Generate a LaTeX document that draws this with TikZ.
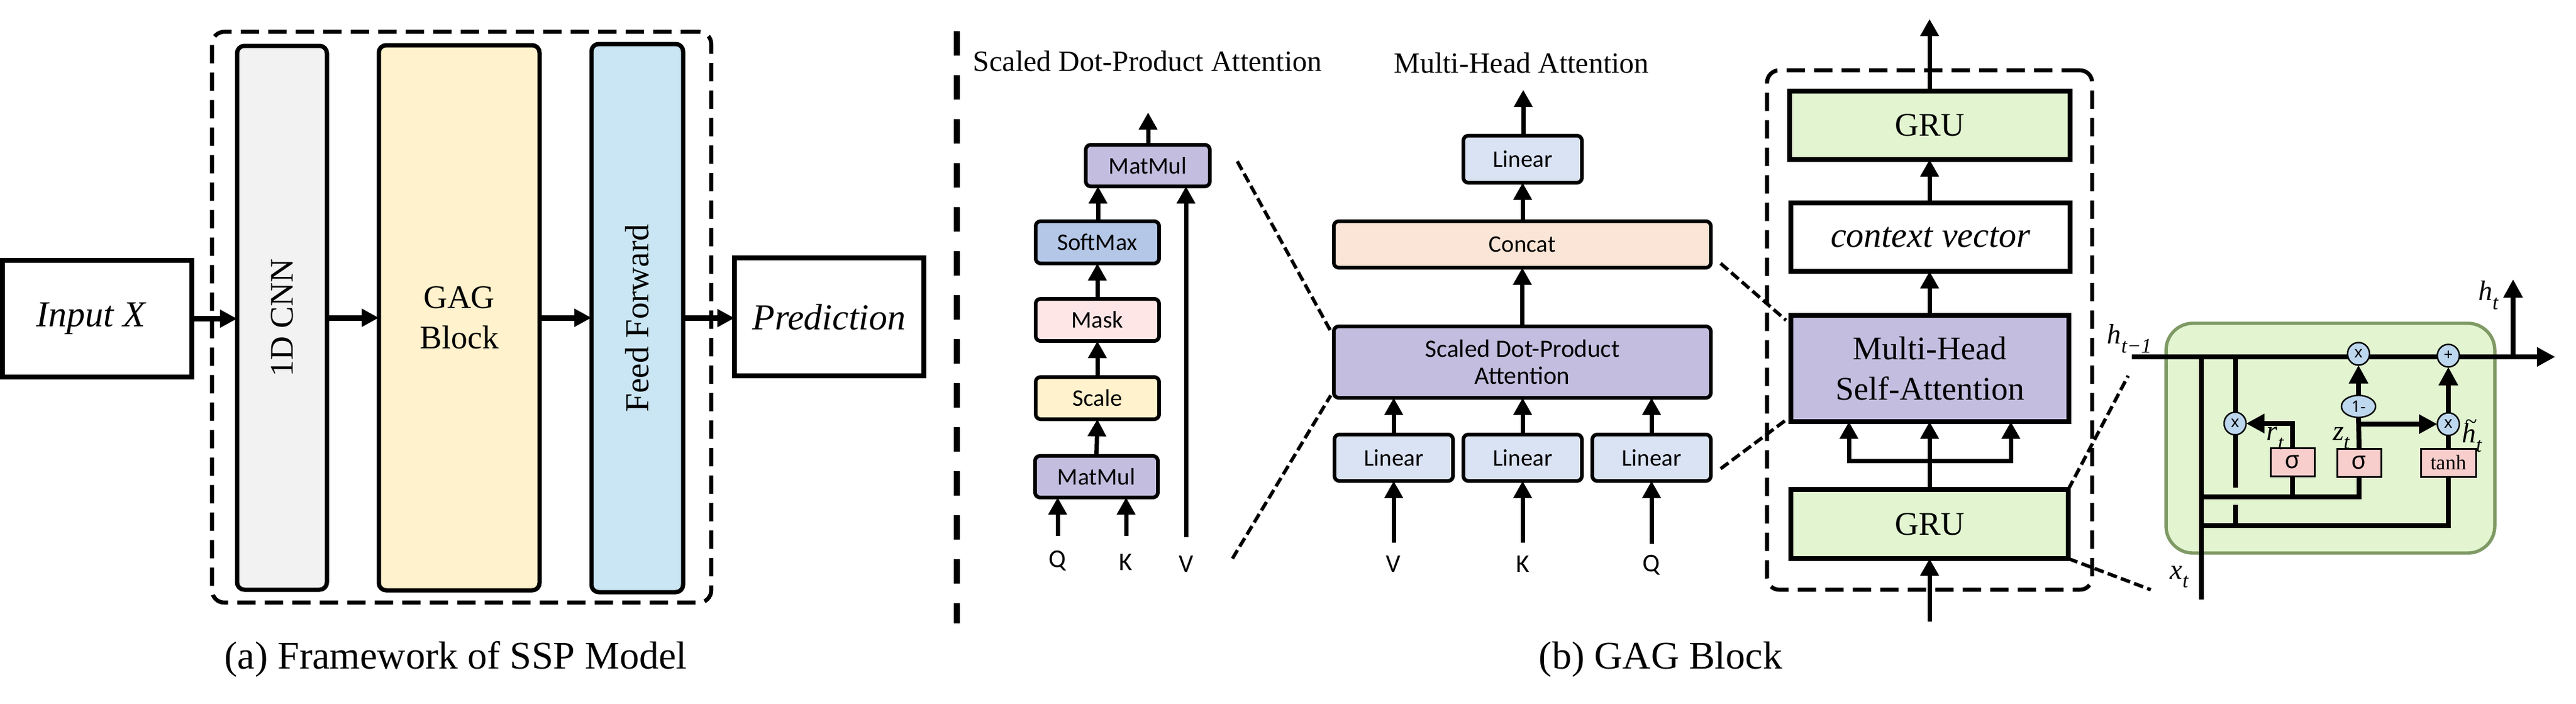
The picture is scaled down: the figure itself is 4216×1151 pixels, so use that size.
\documentclass[tikz,border=0pt]{standalone}
\usepackage{fontspec}
\setmainfont{Liberation Serif}
\newfontfamily\nsans{Carlito}
\newfontfamily\nsansb{Noto Sans}
\usetikzlibrary{arrows.meta,shapes.geometric,calc}
\definecolor{cgrey}{HTML}{F2F2F2}
\definecolor{cyel}{HTML}{FFF2CC}
\definecolor{cblue}{HTML}{CAE6F4}
\definecolor{cgreen}{HTML}{E2F5D0}
\definecolor{cpurp}{HTML}{C3BDDF}
\definecolor{csoft}{HTML}{B4C7E7}
\definecolor{cmask}{HTML}{FFE6E6}
\definecolor{clin}{HTML}{DAE3F3}
\definecolor{ccon}{HTML}{FBE5D6}
\definecolor{cpink}{HTML}{F8CECC}
\definecolor{ccirc}{HTML}{BDD7EE}
\definecolor{cedge}{HTML}{7F9A65}
\newcommand{\fs}[1]{\fontsize{#1}{#1}\selectfont}
\newcommand{\fsl}[2]{\fontsize{#1}{#2}\selectfont}
\newcommand{\bx}[7]{%
  \pgfmathsetmacro\bxcx{(#3+#5)/2}\pgfmathsetmacro\bxcy{(#4+#6)/2}%
  \pgfmathsetmacro\bxw{(#5-#3-4)*0.5}\pgfmathsetmacro\bxh{(#6-#4-4)*0.5}%
  \node[#1,minimum width=\bxw pt,minimum height=\bxh pt] (#2) at (\bxcx,\bxcy) {#7};}
\newcommand{\lab}[2]{\textit{#1}\raisebox{-.32em}{\fs{17}\textit{#2}}}
\tikzset{
  bbase/.style={draw=black,line width=3.5pt,inner sep=0pt,outer sep=0pt,align=center},
  plainbox/.style={bbase,line width=4pt,font=\fs{30}\itshape},
  tallbox/.style={bbase,rounded corners=6pt,font=\fs{27}},
  smallbox/.style={bbase,line width=3pt,rounded corners=4pt,font=\nsans\fs{19.5}},
  sqbox/.style={bbase,line width=4pt,font=\fs{27}},
  dashbox/.style={draw=black,line width=3.3pt,dash pattern=on 15pt off 7.5pt,rounded corners=10pt,inner sep=0pt},
  zoomline/.style={draw=black,line width=2.8pt,dash pattern=on 8pt off 3.5pt},
  arr/.style={draw=black,line width=3.5pt,-{Triangle[length=14pt,width=14.5pt]}},
  arrthick/.style={draw=black,line width=4.5pt,-{Triangle[length=14pt,width=14pt]}},
  wire/.style={draw=black,line width=4pt},
  wirearr/.style={wire,-{Triangle[length=15pt,width=15pt]}},
  cellbox/.style={draw=black,line width=1.5pt,fill=cpink,inner sep=0pt,outer sep=0pt},
  circnode/.style={ellipse,draw=black,line width=1.2pt,fill=ccirc,inner sep=0pt,outer sep=0pt,font=\nsansb\fs{13}},
  captext/.style={font=\fs{32},inner sep=0pt},
  titletext/.style={font=\fs{24},inner sep=0pt},
  qkv/.style={font=\nsans\fs{21},inner sep=0pt},
  symtext/.style={font=\fs{23},inner sep=0pt}
}
\begin{document}
\begin{tikzpicture}[x=0.5pt,y=-0.5pt]
\useasboundingbox (0,0) rectangle (4216,1151);
% ---------- (a)
\bx{dashbox}{frame}{345}{50}{1166}{988}{}
\bx{plainbox}{input}{2}{424}{316}{619}{Input X\hspace{10pt}}
\bx{tallbox,fill=cgrey}{cnn}{386}{73}{537}{967}{\rotatebox{90}{1D CNN}}
\bx{tallbox,fill=cyel,font=\fsl{27}{33}}{gag}{618}{72}{885}{968}{GAG\\Block}
\bx{tallbox,fill=cblue,font=\fs{27.5}}{ff}{966}{70}{1120}{971}{\rotatebox{90}{Feed Forward}}
\bx{plainbox}{pred}{1200}{420}{1514}{617}{Prediction}
\draw[arrthick] (input.east) -- (input.east -| cnn.west);
\draw[arrthick] (cnn.east) -- (cnn.east -| gag.west);
\draw[arrthick] (gag.east) -- (gag.east -| ff.west);
\draw[arrthick] (ff.east) -- (ff.east -| pred.west);
\node[captext] (capa) at (746,1079) {(a) Framework of SSP Model};
% ---------- divider
\coordinate (divtop) at (1566,51);
\coordinate (divbot) at (1566,1020);
\draw[line width=5pt,dash pattern=on 20pt off 16pt] (divtop) -- (divbot);
% ---------- scaled dot-product attention
\node[titletext] (t1) at (1878,100) {Scaled Dot-Product Attention};
\node[titletext] (t2) at (2490,103) {Multi-Head Attention};
\bx{smallbox,fill=cpurp}{mm2}{1775}{235}{1982}{307}{MatMul}
\bx{smallbox,fill=csoft}{sm}{1693}{360}{1899}{433}{SoftMax}
\bx{smallbox,fill=cmask}{mask}{1693}{487}{1899}{560}{Mask}
\bx{smallbox,fill=cyel}{scale}{1693}{615}{1899}{688}{Scale}
\bx{smallbox,fill=cpurp}{mm1}{1692}{744}{1897}{816}{MatMul}
\coordinate (o1) at (1879,184);
\draw[arr] (o1 |- mm2.north) -- (o1);
\draw[arr] (mm1.north) -- (scale.south);
\draw[arr] (scale.north) -- (mask.south);
\draw[arr] (mask.north) -- (sm.south);
\coordinate (smt) at (1797,360);
\draw[arr] (smt) -- (smt |- mm2.south);
\node[qkv] (lq1) at (1731,918) {Q};
\node[qkv] (lk1) at (1842,920) {K};
\node[qkv] (lv1) at (1941,923) {V};
\coordinate (q1s) at (1731,877);
\coordinate (k1s) at (1843,877);
\coordinate (v1s) at (1941,879);
\draw[arr] (q1s) -- (q1s |- mm1.south);
\draw[arr] (k1s) -- (k1s |- mm1.south);
\draw[arr] (v1s) -- (v1s |- mm2.south);
% ---------- multi-head attention
\bx{smallbox,fill=clin}{ltop}{2393}{220}{2591}{301}{Linear}
\bx{smallbox,fill=ccon}{concat}{2181}{360}{2802}{440}{Concat}
\bx{smallbox,fill=cpurp,font=\nsans\fsl{20.5}{22}}{sdpa}{2181}{532}{2802}{653}{Scaled Dot-Product\\Attention}
\bx{smallbox,fill=clin}{l1}{2182}{709}{2380}{789}{Linear}
\bx{smallbox,fill=clin}{l2}{2393}{709}{2591}{789}{Linear}
\bx{smallbox,fill=clin}{l3}{2604}{709}{2802}{789}{Linear}
\coordinate (o2) at (2493,147);
\draw[arr] (o2 |- ltop.north) -- (o2);
\draw[arr] (concat.north -| ltop.south) -- (ltop.south);
\draw[arr] (sdpa.north) -- (concat.south);
\draw[arr] (l1.north) -- (l1.north |- sdpa.south);
\draw[arr] (l2.north) -- (l2.north |- sdpa.south);
\draw[arr] (l3.north) -- (l3.north |- sdpa.south);
\node[qkv] (lv2) at (2280,923) {V};
\node[qkv] (lk2) at (2492,923) {K};
\node[qkv] (lq2) at (2703,925) {Q};
\coordinate (v2s) at (2281,888);
\coordinate (k2s) at (2492,888);
\coordinate (q2s) at (2703,890);
\draw[arr] (v2s) -- (v2s |- l1.south);
\draw[arr] (k2s) -- (k2s |- l2.south);
\draw[arr] (q2s) -- (q2s |- l3.south);
% ---------- GAG block
\bx{dashbox}{gagframe}{2890}{113}{3426}{967}{}
\bx{sqbox,fill=cgreen}{gru2}{2927}{147}{3390}{263}{GRU}
\bx{sqbox,font=\fs{29}\itshape}{ctx}{2929}{330}{3390}{446}{context vector}
\bx{sqbox,fill=cpurp,font=\fsl{27}{33}}{mhsa}{2929}{514}{3388}{692}{Multi-Head\\Self-Attention}
\bx{sqbox,fill=cgreen}{gru1}{2929}{799}{3387}{916}{GRU}
\coordinate (o3) at (3158,31);
\coordinate (i3) at (3158,1017);
\coordinate (fork) at (3158,754);
\draw[arr] (o3 |- gru2.north) -- (o3);
\draw[arr] (ctx.north -| o3) -- (o3 |- gru2.south);
\draw[arr] (mhsa.north -| o3) -- (o3 |- ctx.south);
\draw[arr] (gru1.north -| o3) -- (o3 |- mhsa.south);
\draw[arr] (i3) -- (o3 |- gru1.south);
\coordinate (fl) at (3026,754);
\coordinate (fr) at (3291,754);
\draw[arr] (fork) -- (fl) -- (fl |- mhsa.south);
\draw[arr] (fork) -- (fr) -- (fr |- mhsa.south);
% ---------- zoom guide lines
\coordinate (z1a) at (2025,264);
\coordinate (z1b) at (2017,914);
\draw[zoomline] (z1a) -- ($(sdpa.north west)+(-5,8)$);
\draw[zoomline] (z1b) -- ($(sdpa.south west)+(-5,-4)$);
\coordinate (z2a) at (2816,431);
\coordinate (z2b) at (2816,767);
\draw[zoomline] (z2a) -- ($(mhsa.north west)+(-8,8)$);
\draw[zoomline] (z2b) -- ($(mhsa.south west)+(-5,-5)$);
\coordinate (z3a) at (3483,615);
\coordinate (z3b) at (3520,965);
\draw[zoomline] (gru1.north east) -- (z3a);
\draw[zoomline] (gru1.south east) -- (z3b);
% ---------- GRU cell
\node[draw=cedge,line width=2.7pt,fill=cgreen,rounded corners=22pt,inner sep=0pt,outer sep=0pt,minimum width=269pt,minimum height=188pt] (cell) at (3814,717) {};
\node[cellbox,minimum width=36pt,minimum height=23pt] (s1) at (3752,756) {\nsansb\fs{20}σ};
\node[cellbox,minimum width=36pt,minimum height=23pt] (s2) at (3861,757) {\nsansb\fs{20}σ};
\node[cellbox,minimum width=45pt,minimum height=23pt] (tanh) at (4007,757) {\fs{17}tanh};
\coordinate (hin) at (3489,584);
\coordinate (hout) at (4182,584);
\coordinate (hup) at (4113,584);
\coordinate (htop) at (4113,457);
\coordinate (xin) at (3603,981);
\coordinate (xa) at (3603,584);
\coordinate (ba) at (3659,584);
\coordinate (bb) at (3659,798);
\coordinate (bc) at (3659,826);
\coordinate (bd) at (3659,860);
\coordinate (la) at (3603,813);
\coordinate (lb) at (3603,860);
\coordinate (cj) at (3861,694);
\draw[wirearr] (hin) -- (hout);
\draw[wirearr] (hup) -- (htop);
\draw[wire] (xin) -- (xa);
\draw[wire] (ba) -- (bb);
\draw[wire] (bc) -- (bd);
\draw[wire] (la) -| (s2.south);
\draw[wire] (s1.south) -- (s1.south |- la);
\draw[wire] (lb) -| (tanh.south);
\node[circnode,minimum width=18pt,minimum height=18.5pt] (xl) at (3658,693) {x};
\node[circnode,minimum width=18pt,minimum height=18.5pt] (xt) at (3860,579) {x};
\node[circnode,minimum width=18pt,minimum height=18.5pt] (xr) at (4007,694) {x};
\node[circnode,minimum width=18pt,minimum height=18.5pt] (plus) at (4007,582) {+};
\node[circnode,minimum width=28pt,minimum height=18pt] (one) at (3860,665) {1-};
\draw[wire] (tanh.north) -- (xr.south);
\draw[wire] (s2.north) -- (one.south);
\draw[wirearr] (s1.north) |- (xl.east);
\draw[wirearr] (cj) -- (xr.west);
\draw[wirearr] (one.north) -- (xt.south);
\draw[wirearr] (xr.north) -- (plus.south);
\node[symtext] (lht) at (4073,483) {\lab{h}{t}};
\node[symtext] (lhp) at (3485,554) {\lab{h}{t−1}};
\node[symtext] (lrt) at (3724,717) {\lab{r}{t}};
\node[symtext] (lzt) at (3832,717) {\lab{z}{t}};
\node[symtext] (lht2) at (4046,713) {\rlap{\raisebox{.5em}{\hspace{.1em}\fs{18}\textit{\~{}}}}\lab{h}{t}};
\node[symtext] (lxt) at (3567,944) {\lab{x}{t}};
% ---------- caption (b)
\node[captext] (capb) at (2718,1079) {(b) GAG Block};
\end{tikzpicture}
\end{document}
